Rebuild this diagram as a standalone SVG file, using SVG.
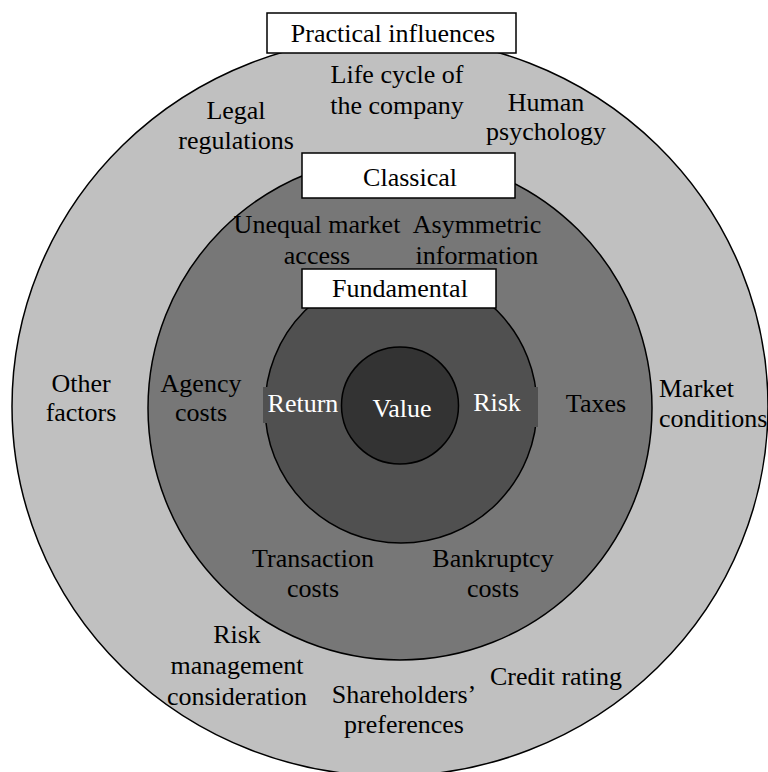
<svg xmlns="http://www.w3.org/2000/svg" width="768" height="772" viewBox="0 0 768 772">
  <style>
    .ring { stroke: #000; stroke-width: 1.5; }
    .box { fill: #fff; stroke: #000; stroke-width: 1.5; }
    text { font-family: "Liberation Serif", "Times New Roman", serif; font-size: 26px; text-anchor: middle; fill: #000; }
    .light { fill: #fff; }
    .left { text-anchor: start; }
  </style>
  <rect width="768" height="772" fill="#fff"/>

  <!-- Practical influences: outer ring -->
  <g id="practical">
    <ellipse class="ring" cx="390" cy="406.5" rx="378" ry="369.5" fill="#c0c0c0"/>
    <rect class="box" x="267" y="13" width="249" height="40"/>
    <text x="393" y="42">Practical influences</text>
    <text x="397" y="83">Life cycle of</text>
    <text x="397" y="114">the company</text>
    <text x="236" y="119">Legal</text>
    <text x="236" y="149">regulations</text>
    <text x="546" y="111">Human</text>
    <text x="546" y="140">psychology</text>
    <text x="81" y="392">Other</text>
    <text x="81" y="421">factors</text>
    <text class="left" x="659" y="397">Market</text>
    <text class="left" x="659" y="427">conditions</text>
    <text x="237" y="643">Risk</text>
    <text x="237" y="674">management</text>
    <text x="237" y="705">consideration</text>
    <text x="404" y="703">Shareholders’</text>
    <text x="404" y="733">preferences</text>
    <text x="556" y="685">Credit rating</text>
  </g>

  <!-- Classical: middle ring -->
  <g id="classical">
    <circle class="ring" cx="400" cy="408" r="252" fill="#777777"/>
    <rect class="box" x="302" y="153" width="213" height="45"/>
    <text x="410" y="186">Classical</text>
    <text x="317" y="233">Unequal market</text>
    <text x="317" y="264">access</text>
    <text x="477" y="233">Asymmetric</text>
    <text x="477" y="264">information</text>
    <text x="201" y="392">Agency</text>
    <text x="201" y="421">costs</text>
    <text x="596" y="412">Taxes</text>
    <text x="313" y="567">Transaction</text>
    <text x="313" y="597">costs</text>
    <text x="493" y="567">Bankruptcy</text>
    <text x="493" y="597">costs</text>
  </g>

  <!-- Fundamental: inner ring -->
  <g id="fundamental">
    <circle class="ring" cx="401" cy="407" r="136" fill="#505050"/>
    <rect class="box" x="302" y="269" width="194" height="39"/>
    <text x="400" y="297">Fundamental</text>
    <rect x="263" y="387" width="77" height="36" fill="#505050"/>
    <rect x="467" y="387" width="71" height="40" fill="#505050"/>
    <text class="light" x="303" y="412">Return</text>
    <text class="light" x="497" y="411">Risk</text>
  </g>

  <!-- Value: core -->
  <g id="value">
    <circle class="ring" cx="400" cy="405.5" r="58.5" fill="#333333"/>
    <text class="light" x="402" y="417">Value</text>
  </g>

  <g id="connectors"/>
</svg>
